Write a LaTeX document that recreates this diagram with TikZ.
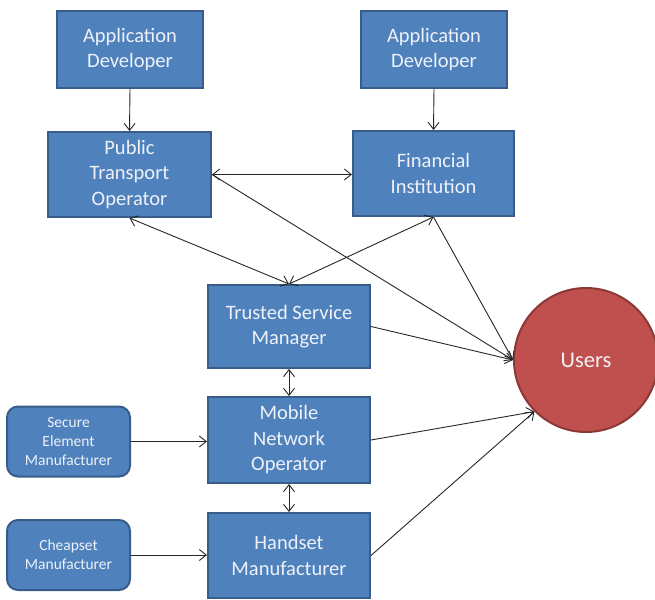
\documentclass[tikz,border=0pt]{standalone}
\usepackage{fontspec}
\setmainfont{Carlito}
\usetikzlibrary{arrows.meta}
\definecolor{boxfill}{HTML}{4F81BD}
\definecolor{boxline}{HTML}{385D8A}
\definecolor{userfill}{HTML}{C0504D}
\definecolor{userline}{HTML}{8C3836}
\definecolor{txt}{HTML}{EEF2F8}
\begin{document}
\begin{tikzpicture}[x=1pt,y=-1pt,
  bigbox/.style={draw=boxline,fill=boxfill,line width=2pt,inner sep=0pt,
    align=center,text=txt,font=\fontsize{20.5}{25.5}\selectfont},
  smallbox/.style={draw=boxline,fill=boxfill,line width=2pt,inner sep=0pt,rounded corners=11pt,
    align=center,text=txt,font=\fontsize{15.5}{19}\selectfont,
    minimum width=123pt,minimum height=70pt},
  userstyle/.style={circle,draw=userline,fill=userfill,line width=2pt,inner sep=0pt,
    minimum size=144pt,text=txt,font=\fontsize{22.5}{27}\selectfont},
  conn/.style={draw=black!85,line width=0.9pt,-{Straight Barb[length=7pt,width=11pt]}},
  bconn/.style={draw=black!85,line width=0.9pt,{Straight Barb[length=7pt,width=11pt]}-{Straight Barb[length=7pt,width=11pt]}}
]
\useasboundingbox (0,0) rectangle (655,599);
\node[bigbox,minimum width=146pt,minimum height=77pt] (ad1) at (130,49.5) {Application\\Developer};
\node[bigbox,minimum width=146pt,minimum height=77pt] (ad2) at (434,49.5) {Application\\Developer};
\node[bigbox,minimum width=163pt,minimum height=85pt] (pto) at (129.5,174.5) {Public\\Transport\\Operator};
\node[bigbox,minimum width=161pt,minimum height=85pt] (fi) at (433.5,173.5) {Financial\\Institution};
\node[bigbox,minimum width=162pt,minimum height=83pt] (tsm) at (289,326.5) {Trusted Service\\Manager};
\node[bigbox,minimum width=162pt,minimum height=86pt] (mno) at (289,440) {Mobile\\Network\\Operator};
\node[bigbox,minimum width=162pt,minimum height=85pt] (hm) at (289,555.5) {Handset\\Manufacturer};
\node[smallbox] (sem) at (68.5,441.5) {Secure\\Element\\Manufacturer};
\node[smallbox] (cm) at (68.5,555) {Cheapset\\Manufacturer};
\node[userstyle] (users) at (586,360) {Users};

\draw[conn] (ad1.south) -- (pto.north);
\draw[conn] (ad2.south) -- (fi.north);
\draw[bconn] (pto.east) -- (pto.east -| fi.west);
\draw[conn] (pto.east) -- (users.west);
\draw[bconn] (pto.south) -- (tsm.north);
\draw[bconn] (fi.south) -- (tsm.north);
\draw[conn] (fi.south) -- (users.west);
\draw[conn] (tsm.east) -- (users.west);
\draw[bconn] (tsm.south) -- (mno.north);
\draw[bconn] (mno.south) -- (hm.north);
\draw[conn] (mno.east) -- (users.225);
\draw[conn] (hm.east) -- (users.225);
\draw[conn] (sem.east) -- (sem.east -| mno.west);
\draw[conn] (cm.east) -- (cm.east -| hm.west);
\end{tikzpicture}
\end{document}
